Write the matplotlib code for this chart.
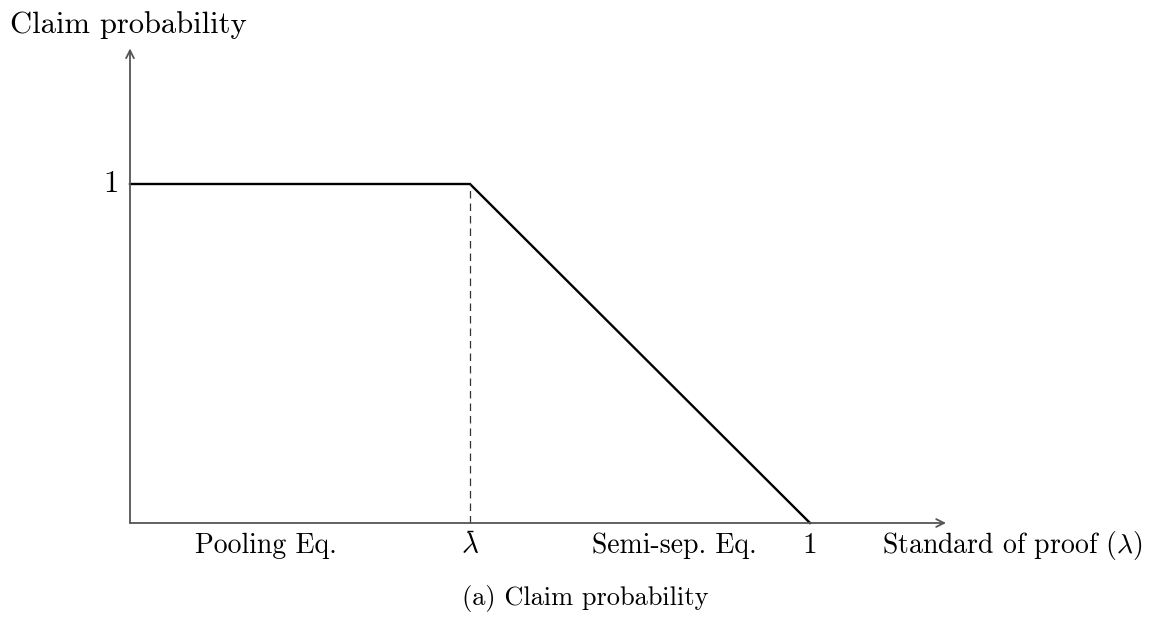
import matplotlib
matplotlib.use("Agg")
import matplotlib.pyplot as plt

plt.rcParams["font.family"] = ["cmr10", "DejaVu Serif"]
plt.rcParams["mathtext.fontset"] = "cm"
plt.rcParams["axes.unicode_minus"] = False

# piecewise claim probability
lam_pts = [0.0, 0.5, 1.0]
prob_pts = [1.0, 1.0, 0.0]
lam_bar = 0.5
x_max = 1.2
y_max = 1.40

region_labels = ["Pooling Eq.", "Semi-sep. Eq."]
region_pos = [0.2, 0.8]

W, H = 1154, 617
fig = plt.figure(figsize=(W / 100, H / 100), dpi=100)
ax = fig.add_axes([0, 0, 1, 1])
# pixel mapping: x=0 -> 130px, x=1 -> 810px ; y=0 -> 523px from top, y=1 -> 184px
sx, sy = 680.0, 339.0
x0, y0 = 130.0, H - 523.0
ax.set_xlim(-x0 / sx, (W - x0) / sx)
ax.set_ylim(-y0 / sy, (H - y0) / sy)
ax.axis("off")

axis_col = "#555555"
arrow = dict(arrowstyle="->", color=axis_col, lw=1.3, shrinkA=0, shrinkB=0,
             mutation_scale=14)
ax.annotate("", xy=(x_max, 0), xytext=(0, 0), arrowprops=arrow)
ax.annotate("", xy=(0, y_max), xytext=(0, 0), arrowprops=arrow)

ax.plot(lam_pts, prob_pts, color="black", lw=1.7, solid_joinstyle="miter")
ax.plot([lam_bar, lam_bar], [0, 1], color="#333333", lw=0.9, ls=(0, (6, 4)))

fs = 22
fs_lab = 20
ax.text(-0.028, 1.0, "1", fontsize=fs, ha="center", va="center")
ax.text(-0.176, (H - 33 - y0) / sy, "Claim probability", fontsize=fs,
        ha="left", va="baseline")

yb = -(553 - 523) / sy
for lbl, pos in zip(region_labels, region_pos):
    ax.text(pos, yb, lbl, fontsize=fs_lab, ha="center", va="baseline")

# lambda-bar label: glyph plus a short bar sitting just above it
ax.text(lam_bar, yb, r"$\lambda$", fontsize=fs_lab + 1, ha="center", va="baseline")
ax.plot([lam_bar - 0.005, lam_bar + 0.005], [-(531 - 523) / sy] * 2,
        color="black", lw=1.0, solid_capstyle="butt")

ax.text(1.0, yb, "1", fontsize=fs_lab + 1, ha="center", va="baseline")
ax.text((882 - x0) / sx, yb, r"Standard of proof ($\lambda$)", fontsize=fs_lab,
        ha="left", va="baseline")

ax.text((585 - x0) / sx, -(605 - 523) / sy, "(a) Claim probability",
        fontsize=19, ha="center", va="baseline")

fig.savefig("out.png", dpi=100)
